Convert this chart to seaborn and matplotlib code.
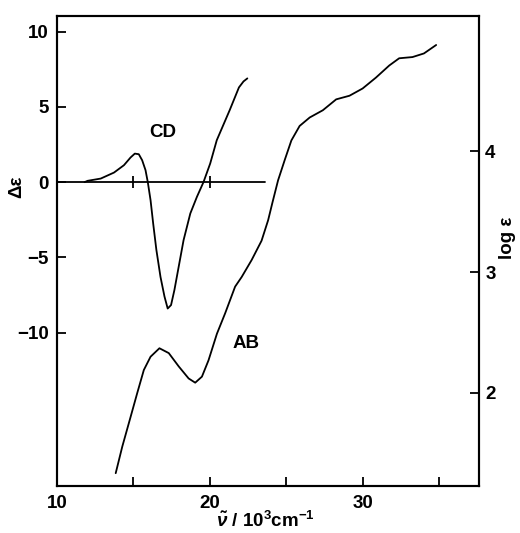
import numpy as np
import pandas as pd
import matplotlib
matplotlib.use("Agg")
import matplotlib.pyplot as plt
import seaborn as sns

# CD spectrum (left axis, delta epsilon)
cd_x = [11.8, 12.0, 12.86, 13.73, 14.38, 14.81, 15.09, 15.35, 15.57, 15.79, 15.94,
        16.12, 16.29, 16.5, 16.77, 17.03, 17.24, 17.46, 17.68, 17.96, 18.28, 18.72,
        19.15, 19.58, 20.02, 20.45, 21.3, 21.9, 22.2, 22.45]
cd_y = [0.0, 0.09, 0.24, 0.64, 1.13, 1.64, 1.9, 1.86, 1.46, 0.8, 0.0,
        -1.2, -2.74, -4.5, -6.3, -7.6, -8.4, -8.17, -7.17, -5.62, -3.85, -2.08,
        -0.98, 0.0, 1.24, 2.79, 4.8, 6.3, 6.7, 6.9]

# absorption spectrum (right axis, log epsilon)
ab_x = [13.84, 14.27, 14.81, 15.25, 15.68, 16.12, 16.7, 17.31, 17.96, 18.61, 19.04,
        19.48, 19.91, 20.46, 21.0, 21.65, 22.08, 22.73, 23.38, 23.81, 24.1, 24.46,
        24.9, 25.33, 25.87, 26.53, 27.39, 28.26, 29.13, 29.99, 30.86, 31.73, 32.38,
        33.25, 34.0, 34.8]
ab_y = [1.336, 1.556, 1.80, 2.0, 2.19, 2.30, 2.37, 2.33, 2.22, 2.12, 2.085,
        2.135, 2.27, 2.49, 2.66, 2.88, 2.96, 3.10, 3.26, 3.43, 3.58, 3.76,
        3.93, 4.09, 4.21, 4.28, 4.34, 4.43, 4.46, 4.52, 4.61, 4.71, 4.77,
        4.78, 4.81, 4.88]

zero_x = [10, 23.6]
zero_ticks = [15, 20]
x_ticks = [15, 20, 25, 30, 35]
x_labels = ["", "20", "", "30", ""]
left_ticks = [10, 5, 0, -5, -10]
right_ticks = [2, 3, 4]

sns.set_style("ticks")
plt.rcParams["font.family"] = ["Liberation Sans", "DejaVu Sans"]
plt.rcParams["font.weight"] = "bold"
plt.rcParams["mathtext.fontset"] = "custom"
plt.rcParams["mathtext.it"] = "Liberation Sans:italic:bold"
plt.rcParams["mathtext.rm"] = "Liberation Sans:bold"
for k in ["text.color", "axes.labelcolor", "xtick.color", "ytick.color", "axes.edgecolor"]:
    plt.rcParams[k] = "black"

fs = 13.5
fig = plt.figure(figsize=(5.2, 5.33), dpi=100)
ax = fig.add_axes([0.1096, 0.0882, 0.8115, 0.8818])
ax2 = ax.twinx()

cd = pd.DataFrame({"x": cd_x, "y": cd_y})
ab = pd.DataFrame({"x": ab_x, "y": ab_y})
sns.lineplot(data=cd, x="x", y="y", ax=ax, color="black", lw=1.3, estimator=None, sort=False)
sns.lineplot(data=ab, x="x", y="y", ax=ax2, color="black", lw=1.3, estimator=None, sort=False)

# zero line with small ticks
ax.plot(zero_x, [0, 0], color="black", lw=1.3)
ax.plot(zero_ticks, [0] * len(zero_ticks), ls="none", marker="|", ms=8, mew=1.3, color="black")

ax.set_xlim(10, 37.6)
ax.set_ylim(-20.2, 11.05)
ax2.set_ylim(1.23, 5.12)

ax.set_xticks([10] + x_ticks)
ax.set_xticklabels(["10"] + x_labels)
ax.set_yticks(left_ticks)
ax.set_yticklabels(["10", "5", "0", "\u22125", "\u221210"])
ax2.set_yticks(right_ticks)
ax2.set_yticklabels([str(t) for t in right_ticks])

ax.tick_params(axis="x", direction="in", length=6.5, width=1.3, pad=6.5, labelsize=fs)
ax.tick_params(axis="y", direction="in", length=6.5, width=1.3, pad=6, labelsize=fs)
ax2.tick_params(axis="y", direction="in", length=6.5, width=1.3, pad=4.5, labelsize=fs)
ax.xaxis.get_major_ticks()[0].tick1line.set_visible(False)

for a in (ax, ax2):
    for s in a.spines.values():
        s.set_linewidth(1.5)
        s.set_visible(True)

ax.set_xlabel(r"$\tilde{\nu}$ / 10$^{3}$cm$^{-1}$", fontsize=fs, fontweight="bold")
ax.xaxis.set_label_coords(0.494, -0.052)
ax.set_ylabel("\u0394\u03b5", fontsize=fs, fontweight="bold")
ax.yaxis.set_label_coords(-0.075, 0.636)
ax2.set_ylabel("log \u03b5", fontsize=fs, fontweight="bold", rotation=90)
ax2.yaxis.set_label_coords(1.048, 0.528)

ax.text(16.9, 3.3, "CD", fontsize=fs, fontweight="bold", ha="center", va="center")
ax.text(22.35, -10.7, "AB", fontsize=fs, fontweight="bold", ha="center", va="center")

fig.savefig("out.png", dpi=100)
